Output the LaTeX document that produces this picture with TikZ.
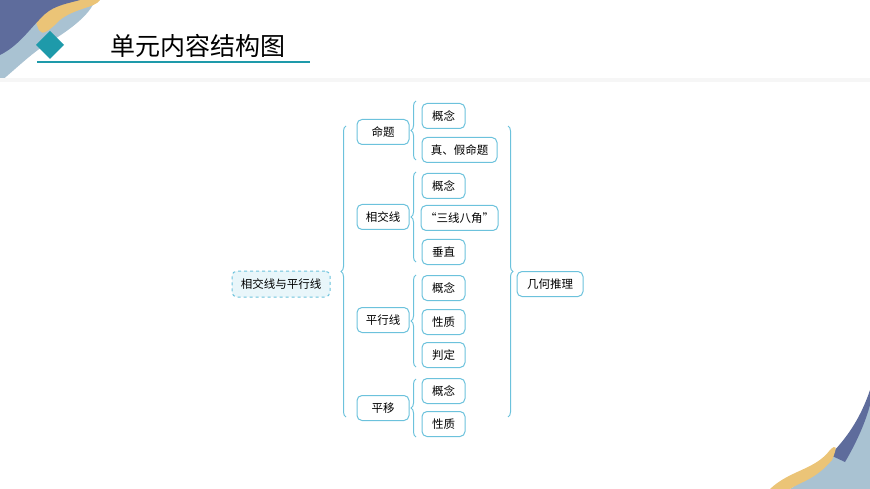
\documentclass[tikz,border=0pt]{standalone}
\usepackage{fontspec}
\setmainfont{Noto Sans CJK SC}
\usetikzlibrary{decorations.pathreplacing}
\definecolor{bc}{HTML}{6CC2DC}
\definecolor{teal}{HTML}{1E9AAA}
\definecolor{slate}{HTML}{5E6C9C}
\definecolor{sand}{HTML}{EBC477}
\definecolor{mist}{HTML}{A9C2D2}
\tikzset{
 box/.style={draw=bc,line width=1pt,rounded corners=5pt,minimum height=25pt,inner xsep=4pt,font=\fontsize{11.5}{13}\selectfont,fill=white},
 brc/.style={draw=bc,line width=1pt,decorate,decoration={brace,amplitude=5pt}}
}
\begin{document}
\begin{tikzpicture}[x=1pt,y=-1pt]
\useasboundingbox (0,0) rectangle (870,489);
% corner decorations
\fill[mist] (0,0) -- (0,82) .. controls (20,65) and (30,55) .. (45,45) .. controls (70,30) and (90,15) .. (95,0) -- cycle;
\fill[sand] (30,0) .. controls (40,30) and (35,45) .. (60,20) .. controls (75,8) and (95,8) .. (100,0) -- cycle;
\fill[slate] (0,0) -- (0,55) .. controls (20,45) and (30,28) .. (45,14) .. controls (55,5) and (70,3) .. (80,0) -- cycle;
\fill[mist] (870,489) -- (870,400) .. controls (850,440) and (820,470) .. (790,489) -- cycle;
\fill[slate] (870,390) .. controls (860,420) and (845,440) .. (830,455) -- (845,462) .. controls (858,440) and (866,420) .. (870,405) -- cycle;
\fill[sand] (770,489) .. controls (790,470) and (815,470) .. (830,450) .. controls (836,444) and (838,446) .. (832,460) .. controls (815,480) and (800,482) .. (790,489) -- cycle;
% header
\fill[teal] (50,31) -- (64,45) -- (50,59) -- (36,45) -- cycle;
\node[anchor=west,font=\fontsize{25}{28}\selectfont,inner sep=0] (title) at (110,46) {单元内容结构图};
\draw[teal,line width=1.5pt] (37,62) -- (310,62);
\fill[gray!7] (0,78) rectangle (870,82);
% nodes
\node[box,dashed,fill=bc!15,minimum height=26pt,minimum width=98pt] (root) at (281,284) {相交线与平行线};
\node[box,minimum width=52pt] (a) at (383,132) {命题};
\node[box,minimum width=52pt] (b) at (383,217) {相交线};
\node[box,minimum width=52pt] (c) at (383,320) {平行线};
\node[box,minimum width=52pt] (d) at (383,408) {平移};
\node[box,minimum width=43pt] (a1) at (443.5,116) {概念};
\node[box,minimum width=75pt] (a2) at (459.5,150) {真、假命题};
\node[box,minimum width=43pt] (b1) at (443.5,186) {概念};
\node[box,minimum width=75pt] (b2) at (459.5,218) {“三线八角”};
\node[box,minimum width=43pt] (b3) at (443.5,252) {垂直};
\node[box,minimum width=43pt] (c1) at (443.5,288) {概念};
\node[box,minimum width=43pt] (c2) at (443.5,322) {性质};
\node[box,minimum width=43pt] (c3) at (443.5,355) {判定};
\node[box,minimum width=43pt] (d1) at (443.5,391) {概念};
\node[box,minimum width=43pt] (d2) at (443.5,424) {性质};
\node[box,minimum width=66pt] (r) at (550,284) {几何推理};
% braces
\draw[brc] (346,417) -- (346,126);
\draw[brc] (416,160) -- (416,101);
\draw[brc] (416,262) -- (416,172);
\draw[brc] (416,367) -- (416,275);
\draw[brc] (416,437) -- (416,379);
\draw[brc] (508,126) -- (508,417);
\end{tikzpicture}
\end{document}
